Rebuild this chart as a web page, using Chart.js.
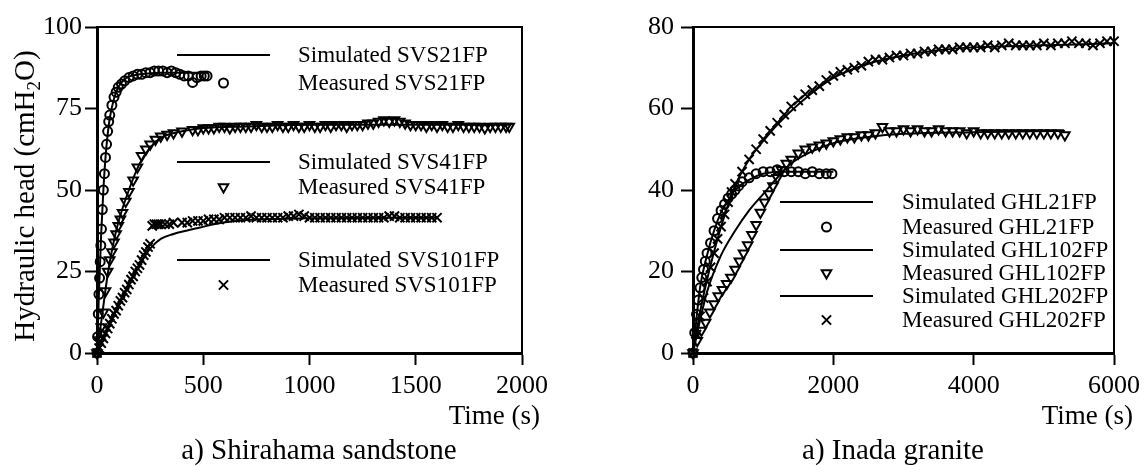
<!DOCTYPE html>
<html>
<head>
<meta charset="utf-8">
<script src="https://cdn.jsdelivr.net/npm/chart.js@4.4.0/dist/chart.umd.min.js"></script>
<style>
  html, body { margin: 0; padding: 0; background: #fff; }
  #wrap { display: flex; width: 1146px; height: 466px; }
  canvas { display: block; }
</style>
</head>
<body>
<div id="wrap">
  <canvas id="sandstone" width="573" height="466"></canvas>
  <canvas id="granite" width="573" height="466"></canvas>
</div>
<script>
// ---- Shirahama sandstone (left) ----
const svs21Time = [0,3,6,9,12,15,18,21,25,30,35,40,45,50,55,60,70,80,90,100,115,130,150,170,190,210,230,250,270,290,310,330,350,370,390,410,430,450,470,490,505,518];
const svs21Head = [0,5,12,18,23,28,33,38,44,50,55,60,64,68,71,73,76,78.5,80,81.5,82.5,83.5,84.5,85,85.5,85.5,86,86,86.5,86.5,86.5,86,86.5,86,85.5,85,85,83,84.5,85,85,85];
const svs21SimTime = [0,10,20,30,40,50,60,80,100,130,160,200,300,400,520];
const svs21SimHead = [0,20,37,50,60,67,72,78,81.5,84,85,85.5,86,86,86];

const svs41Time = [0,10,20,30,40,50,60,70,80,90,100,110,120,135,150,170,190,210,230,250,275,300,330,360,400,450,
    475,500,525,550,575,600,625,650,675,700,725,750,775,800,825,850,875,900,925,950,975,1000,1025,1050,1075,1100,1125,1150,1175,1200,
    1225,1250,1275,1300,1325,1350,1375,1400,1425,1450,1475,1500,1525,1550,1575,1600,1625,1650,1675,1700,1725,1750,1775,1800,1825,1850,1875,1900,1925,1940];
const svs41Head = [0,4,8,12.5,19,25,28.5,31,34,36.5,39,41,43,46.5,49.5,53,57,60.5,62.5,64,65.5,66.5,67,67.5,68,68.5,
    68.5,69,69,69,69.5,69.5,69,69.5,69.5,69.5,69.5,70,69.5,69.5,69.5,70,69.5,69.5,70,69.5,69.5,70,69.5,69.5,70,69.5,70,70,69.5,70,
    70,70,70.5,70.5,71,71.5,71,71.5,71,70.5,70,70,70,69.5,70,69.5,70,69.5,69.5,70,69.5,69.5,69.5,69.5,69,69.5,69.5,69.5,69.5,69.5];
const svs41SimTime = [0,25,50,75,100,150,200,250,300,400,500,700,1000,1500,1950];
const svs41SimHead = [0,12,24,33,40,50,58,63,66,68,69,69.5,70,70,70];

const svs101Time = [0,10,20,30,40,50,60,70,80,90,100,110,120,130,140,150,160,170,180,190,200,210,220,230,240,250,260,270,280,290,300,320,340,360,
    400,425,450,475,500,525,550,575,600,625,650,675,700,725,750,775,800,825,850,875,900,925,950,975,1000,1025,1050,1075,1100,1125,
    1150,1175,1200,1225,1250,1275,1300,1325,1350,1375,1400,1425,1450,1475,1500,1525,1550,1575,1600];
const svs101Head = [0,1.5,3,4.5,6,7.5,9,10.5,12,13,14.5,16,17,18.5,19.5,21,22.5,23.5,25,26,27,28.5,30,31,32.5,33.5,39,39.5,39.5,39.5,39.5,39.5,39.5,40,
    40,40,40.5,40.5,40.5,41,41,41,41.5,41.5,41.5,41.5,41.5,42,41.5,41.5,41.5,41.5,41.5,41.5,42,42,42.5,42,41.5,41.5,41.5,41.5,41.5,41.5,
    41.5,41.5,41.5,41.5,41.5,41.5,41.5,41.5,41.5,42,42,41.5,41.5,41.5,41.5,41.5,41.5,41.5,41.5];
const svs101SimTime = [0,50,100,150,200,250,300,360,420,485,550,650,800,1000,1600];
const svs101SimHead = [0,7.5,14.5,21,27,32,35,36.5,37.5,38.5,39.5,40.5,41,41.3,41.5];

// ---- Inada granite (right) ----
const ghl21Time = [0,25,50,75,100,125,150,175,200,250,300,350,400,450,500,550,600,650,700,800,900,1000,1100,1200,1300,1400,1500,1600,1700,1800,1900,1980];
const ghl21Head = [0,5,9.5,13,16,18.5,20.5,22.5,24.5,27,30,33,35,36.5,38,39,40,41,42,43,44,44.5,44.5,45,44.5,44.5,44.5,44,44.5,44,44,44];
const ghl21SimTime = [0,100,200,300,400,500,600,800,1000,1300,1600,2000];
const ghl21SimHead = [0,16,24,30,34.5,37.5,40,42.5,44,44.5,44.5,44.5];

const ghl102Time = [0,60,120,180,240,300,360,420,480,540,600,660,720,780,840,900,960,1020,1080,1140,1200,1260,1330,1400,1500,1600,1700,1800,1900,2000,
    2100,2200,2300,2400,2500,2600,2700,2800,2900,3000,3100,3200,3300,3400,3500,3600,3700,3800,3900,4000,
    4100,4200,4300,4400,4500,4600,4700,4800,4900,5000,5100,5200,5300];
const ghl102Head = [0,3,5.5,7.5,10,12,14,15.5,17,18.5,20.5,22.5,24.5,26.5,29,31.5,34.5,37,39,41,43,45,46.5,47.5,49,50,50.5,51,51.5,52,
    52.5,53,53,53.5,53.5,54,55.5,54.5,54.5,55,54.5,55,54.5,54.5,55,54.5,54.5,54.5,54,54.5,
    54,54,54,54,54,54,54,54,54,54,54,54,53.5];
const ghl102SimTime = [0,100,200,400,600,800,1000,1200,1400,1700,2000,2500,3000,4000,5300];
const ghl102SimHead = [0,8,15,24,30,35,39,43,46.5,49.5,51.5,53,53.8,54.2,54.5];

const ghl202Time = [0,50,100,150,200,250,300,350,400,450,500,550,600,700,800,900,1000,1100,1200,1300,1400,1500,1600,1700,1800,1900,2000,
    2100,2200,2300,2400,2500,2600,2700,2800,2900,3000,3100,3200,3300,3400,3500,3600,3700,3800,3900,4000,
    4100,4200,4300,4400,4500,4600,4700,4800,4900,5000,5100,5200,5300,5400,5500,5600,5700,5800,5900,6000];
const ghl202Head = [0,4.5,9,13.5,17.5,21,24.5,28,31,34,37,39.5,41.5,44.5,47.5,50,52.5,54.5,56.5,58.5,60.5,62,63.5,64.5,65.5,67,68,
    69,69.5,70,70.5,71.5,72,72,72.5,73,73,73.5,73.5,74,74,74.5,74.5,74.5,75,75,75,
    75,75.5,75,75.5,76,75.5,75.5,75.5,75.5,76,75.5,76,76,76.5,76,76,75.5,76,76.5,76.5];
const ghl202SimTime = [0,100,200,400,600,800,1000,1200,1500,2000,2500,3000,3500,4000,5000,6000];
const ghl202SimHead = [0,10,18,31,41,47.5,52,56,61,67.5,71,73,74.3,75,75.5,76];

Chart.defaults.font.family = "'Liberation Serif', 'Times New Roman', serif";
Chart.defaults.color = '#000';

const pts = (xs, ys) => xs.map((x, i) => ({ x, y: ys[i] }));

function simLine(label, xs, ys) {
    return {
        label, data: pts(xs, ys), showLine: true,
        borderColor: '#000', borderWidth: 2, pointRadius: 0,
        cubicInterpolationMode: 'monotone', clip: false
    };
}

function measured(label, xs, ys, style, radius, rotation) {
    return {
        label, data: pts(xs, ys), showLine: false,
        pointStyle: style, pointRadius: radius, pointRotation: rotation || 0,
        pointBorderColor: '#000', pointBackgroundColor: 'rgba(0,0,0,0)',
        pointBorderWidth: 2, clip: false
    };
}

// draws the legend rows inside the plot, top + right frame and the extra texts
const decorPlugin = {
    id: 'decor',
    afterDatasetsDraw(chart, args, opts) {
        const ctx = chart.ctx;
        const a = chart.chartArea;
        ctx.save();
        ctx.strokeStyle = '#000';
        ctx.lineWidth = 2;
        ctx.beginPath();
        ctx.moveTo(a.left, a.top);
        ctx.lineTo(a.right, a.top);
        ctx.lineTo(a.right, a.bottom);
        ctx.stroke();

        // legend
        const lg = opts.legend;
        ctx.font = "23px 'Liberation Serif'";
        ctx.fillStyle = '#000';
        ctx.textBaseline = 'middle';
        ctx.textAlign = 'left';
        chart.data.datasets.forEach((ds, i) => {
            const y = lg.rows[i];
            if (ds.showLine) {
                ctx.lineWidth = 2;
                ctx.beginPath();
                ctx.moveTo(lg.x1, y);
                ctx.lineTo(lg.x2, y);
                ctx.stroke();
            } else {
                ctx.lineWidth = ds.pointBorderWidth;
                ctx.fillStyle = 'rgba(0,0,0,0)';
                Chart.helpers.drawPoint(ctx, {
                    pointStyle: ds.pointStyle, radius: ds.pointRadius,
                    rotation: ds.pointRotation, borderWidth: ds.pointBorderWidth
                }, (lg.x1 + lg.x2) / 2, y);
                ctx.fillStyle = '#000';
            }
            ctx.fillText(ds.label, lg.textX, y + 1);
        });

        // x title + caption
        ctx.textBaseline = 'alphabetic';
        ctx.textAlign = 'right';
        ctx.font = "27px 'Liberation Serif'";
        ctx.fillText('Time (s)', opts.xTitleRight, 424);
        ctx.textAlign = 'center';
        ctx.font = "29px 'Liberation Serif'";
        ctx.fillText(opts.caption, opts.captionX, 459);

        // y title with subscript
        if (opts.yTitle) {
            ctx.translate(34, 196);
            ctx.rotate(-Math.PI / 2);
            const big = "29px 'Liberation Serif'";
            const small = "19px 'Liberation Serif'";
            const p1 = 'Hydraulic head (cmH', p2 = '2', p3 = 'O)';
            ctx.font = big;
            const w1 = ctx.measureText(p1).width, w3 = ctx.measureText(p3).width;
            ctx.font = small;
            const w2 = ctx.measureText(p2).width;
            let x = -(w1 + w2 + w3) / 2;
            ctx.textAlign = 'left';
            ctx.font = big;
            ctx.fillText(p1, x, 0);
            x += w1;
            ctx.font = small;
            ctx.fillText(p2, x, 6);
            x += w2;
            ctx.font = big;
            ctx.fillText(p3, x, 0);
        }
        ctx.restore();
    }
};

function makeChart(id, datasets, xMax, xStep, yMax, yStep, yWidth, rightPad, labelPad, decor) {
    return new Chart(document.getElementById(id), {
        type: 'scatter',
        data: { datasets },
        options: {
            responsive: false,
            animation: false,
            events: [],
            layout: { padding: { top: 27, right: rightPad, left: 0, bottom: 0 } },
            plugins: { legend: { display: false }, tooltip: { enabled: false }, decor },
            scales: {
                x: {
                    type: 'linear', min: 0, max: xMax,
                    afterFit: s => { s.height = 113; },
                    border: { display: true, color: '#000', width: 3 },
                    grid: { drawOnChartArea: false, drawTicks: true, tickLength: 12, tickWidth: 2, tickColor: '#000' },
                    ticks: { stepSize: xStep, padding: 6, maxRotation: 0, font: { size: 26 }, color: '#000', callback: v => String(v) }
                },
                y: {
                    type: 'linear', min: 0, max: yMax,
                    afterFit: s => { s.width = yWidth; },
                    border: { display: true, color: '#000', width: 3 },
                    grid: { drawOnChartArea: false, drawTicks: true, tickLength: 12, tickWidth: 2, tickColor: '#000' },
                    ticks: { stepSize: yStep, padding: labelPad, font: { size: 26 }, color: '#000', callback: v => String(v) }
                }
            }
        },
        plugins: [decorPlugin]
    });
}

makeChart('sandstone', [
    simLine('Simulated SVS21FP', svs21SimTime, svs21SimHead),
    measured('Measured SVS21FP', svs21Time, svs21Head, 'circle', 4.5),
    simLine('Simulated SVS41FP', svs41SimTime, svs41SimHead),
    measured('Measured SVS41FP', svs41Time, svs41Head, 'triangle', 5.5, 180),
    simLine('Simulated SVS101FP', svs101SimTime, svs101SimHead),
    measured('Measured SVS101FP', svs101Time, svs101Head, 'crossRot', 6.5)
], 2000, 500, 100, 25, 97, 51, 3, {
    legend: { x1: 177, x2: 270, textX: 298, rows: [55, 83, 162, 187, 260, 285] },
    xTitleRight: 540, caption: 'a) Shirahama sandstone', captionX: 319, yTitle: true
});

makeChart('granite', [
    simLine('Simulated GHL21FP', ghl21SimTime, ghl21SimHead),
    measured('Measured GHL21FP', ghl21Time, ghl21Head, 'circle', 4.5),
    simLine('Simulated GHL102FP', ghl102SimTime, ghl102SimHead),
    measured('Measured GHL102FP', ghl102Time, ghl102Head, 'triangle', 5.5, 180),
    simLine('Simulated GHL202FP', ghl202SimTime, ghl202SimHead),
    measured('Measured GHL202FP', ghl202Time, ghl202Head, 'crossRot', 6.5)
], 6000, 2000, 80, 20, 120, 31, 7, {
    legend: { x1: 207, x2: 300, textX: 329, rows: [202, 227, 250, 273, 296, 320] },
    xTitleRight: 560, caption: 'a) Inada granite', captionX: 320, yTitle: false
});
</script>
</body>
</html>
